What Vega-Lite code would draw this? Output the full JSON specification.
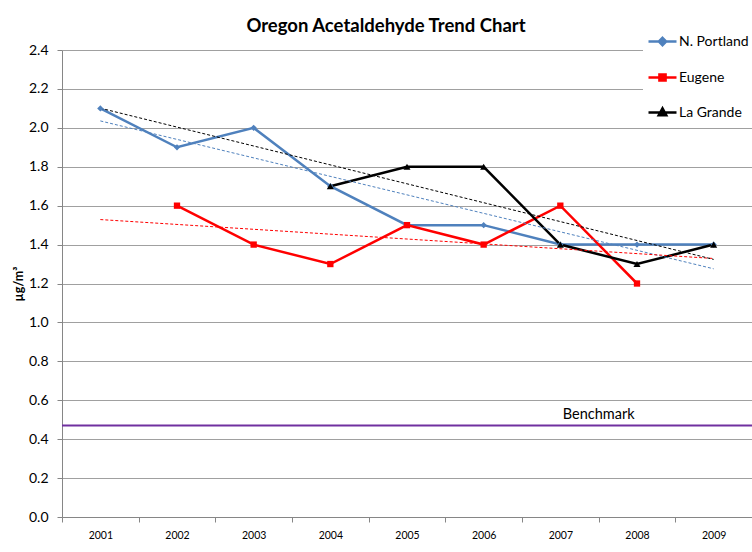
{
  "$schema": "https://vega.github.io/schema/vega-lite/v6.json",
  "width": 690,
  "height": 467,
  "autosize": "none",
  "padding": {"left": 62, "top": 50, "right": 0, "bottom": 35},
  "background": "white",
  "config": {"font": "Lato", "view": {"stroke": null}},
  "title": {
    "text": "Oregon Acetaldehyde Trend Chart",
    "fontSize": 18.5,
    "fontWeight": "bold",
    "color": "black",
    "anchor": "middle",
    "frame": "group",
    "dx": -21,
    "offset": -13
  },
  "datasets": {
    "obs": [
      {"year": 2001, "series": "N. Portland", "value": 2.1},
      {"year": 2002, "series": "N. Portland", "value": 1.9},
      {"year": 2003, "series": "N. Portland", "value": 2.0},
      {"year": 2004, "series": "N. Portland", "value": 1.7},
      {"year": 2005, "series": "N. Portland", "value": 1.5},
      {"year": 2006, "series": "N. Portland", "value": 1.5},
      {"year": 2007, "series": "N. Portland", "value": 1.4},
      {"year": 2008, "series": "N. Portland", "value": 1.4},
      {"year": 2009, "series": "N. Portland", "value": 1.4},
      {"year": 2002, "series": "Eugene", "value": 1.6},
      {"year": 2003, "series": "Eugene", "value": 1.4},
      {"year": 2004, "series": "Eugene", "value": 1.3},
      {"year": 2005, "series": "Eugene", "value": 1.5},
      {"year": 2006, "series": "Eugene", "value": 1.4},
      {"year": 2007, "series": "Eugene", "value": 1.6},
      {"year": 2008, "series": "Eugene", "value": 1.2},
      {"year": 2004, "series": "La Grande", "value": 1.7},
      {"year": 2005, "series": "La Grande", "value": 1.8},
      {"year": 2006, "series": "La Grande", "value": 1.8},
      {"year": 2007, "series": "La Grande", "value": 1.4},
      {"year": 2008, "series": "La Grande", "value": 1.3},
      {"year": 2009, "series": "La Grande", "value": 1.4}
    ],
    "bench": [{"label": "Benchmark", "year": 2008, "value": 0.47}]
  },
  "encoding": {
    "y": {
      "field": "value", "type": "quantitative",
      "scale": {"domain": [0, 2.4], "nice": false},
      "axis": {
        "title": "µg/m³", "titleFontWeight": "bold", "titleFontSize": 12.5, "titleColor": "black",
        "titlePadding": 3,
        "values": [0, 0.2, 0.4, 0.6, 0.8, 1.0, 1.2, 1.4, 1.6, 1.8, 2.0, 2.2, 2.4],
        "tickCount": 20,
        "labelOverlap": false,
        "format": ".1f", "labelFontSize": 14, "labelColor": "black", "labelFont": "Lato",
        "grid": true, "gridColor": "#A0A0A0", "domainColor": "#868686",
        "tickColor": "#868686", "tickSize": 5, "labelPadding": 9
      }
    }
  },
  "layer": [
    {
      "data": {"name": "obs"},
      "mark": {"type": "line", "strokeWidth": 2.5},
      "encoding": {
        "x": {
          "field": "year", "type": "ordinal", "bandPosition": 0.5,
          "scale": {"type": "band", "paddingInner": 0, "paddingOuter": 0},
          "axis": {
            "title": null, "labelAngle": 0, "tickBand": "extent", "grid": false,
            "labelFontSize": 10.5, "labelColor": "black", "labelFont": "Lato",
            "domainColor": "#868686", "tickColor": "#868686", "tickSize": 5, "labelPadding": 8
          }
        },
        "color": {
          "field": "series", "type": "nominal",
          "scale": {"domain": ["N. Portland", "Eugene", "La Grande"], "range": ["#4F81BD", "#FF0000", "#000000"]},
          "legend": {
            "title": null, "orient": "none", "legendX": 581, "legendY": -28,
            "fillColor": "white", "padding": 4, "labelFontSize": 14, "labelFont": "Lato",
            "labelColor": "black", "symbolSize": 784, "rowPadding": 11, "labelOffset": 1, "labelLimit": 200,
            "encode": {
              "symbols": {
                "update": {
                  "shape": {"signal": "datum.value === 'N. Portland' ? 'M-1,0H1M0,-0.26L0.26,0L0,0.26L-0.26,0Z' : datum.value === 'Eugene' ? 'M-1,0H1M-0.22,-0.22H0.22V0.22H-0.22Z' : 'M-1,0H1M0,-0.3L0.27,0.2H-0.27Z'"},
                  "fill": {"scale": "color", "field": "value"},
                  "stroke": {"scale": "color", "field": "value"},
                  "strokeWidth": {"value": 2.5},
                  "opacity": {"value": 1},
                  "fillOpacity": {"value": 1},
                  "strokeOpacity": {"value": 1},
                  "size": {"value": 784}
                }
              }
            }
          }
        }
      }
    },
    {
      "data": {"name": "obs"},
      "transform": [{"regression": "value", "on": "year", "groupby": ["series"], "extent": [2001, 2009]}],
      "mark": {"type": "line", "strokeWidth": 1, "strokeDash": [3, 2]},
      "encoding": {
        "x": {"field": "year", "type": "ordinal", "bandPosition": 0.5},
        "color": {"field": "series", "type": "nominal"}
      }
    },
    {
      "data": {"name": "obs"},
      "transform": [{"filter": {"field": "series", "equal": "N. Portland"}}],
      "mark": {"type": "point", "filled": true, "opacity": 1, "size": 40, "shape": "diamond"},
      "encoding": {
        "x": {"field": "year", "type": "ordinal", "bandPosition": 0.5},
        "color": {"field": "series", "type": "nominal"}
      }
    },
    {
      "data": {"name": "obs"},
      "transform": [{"filter": {"field": "series", "equal": "Eugene"}}],
      "mark": {"type": "point", "filled": true, "opacity": 1, "size": 40, "shape": "square"},
      "encoding": {
        "x": {"field": "year", "type": "ordinal", "bandPosition": 0.5},
        "color": {"field": "series", "type": "nominal"}
      }
    },
    {
      "data": {"name": "obs"},
      "transform": [{"filter": {"field": "series", "equal": "La Grande"}}],
      "mark": {"type": "point", "filled": true, "opacity": 1, "size": 50, "shape": "triangle-up"},
      "encoding": {
        "x": {"field": "year", "type": "ordinal", "bandPosition": 0.5},
        "color": {"field": "series", "type": "nominal"}
      }
    },
    {
      "data": {"name": "bench"},
      "mark": {"type": "rule", "color": "#7030A0", "strokeWidth": 2},
      "encoding": {}
    },
    {
      "data": {"name": "bench"},
      "mark": {"type": "text", "fontSize": 14.5, "color": "black", "align": "center", "baseline": "bottom", "dy": -4, "font": "Lato"},
      "encoding": {
        "x": {"field": "year", "type": "ordinal", "bandPosition": 0},
        "text": {"field": "label"}
      }
    }
  ]
}
